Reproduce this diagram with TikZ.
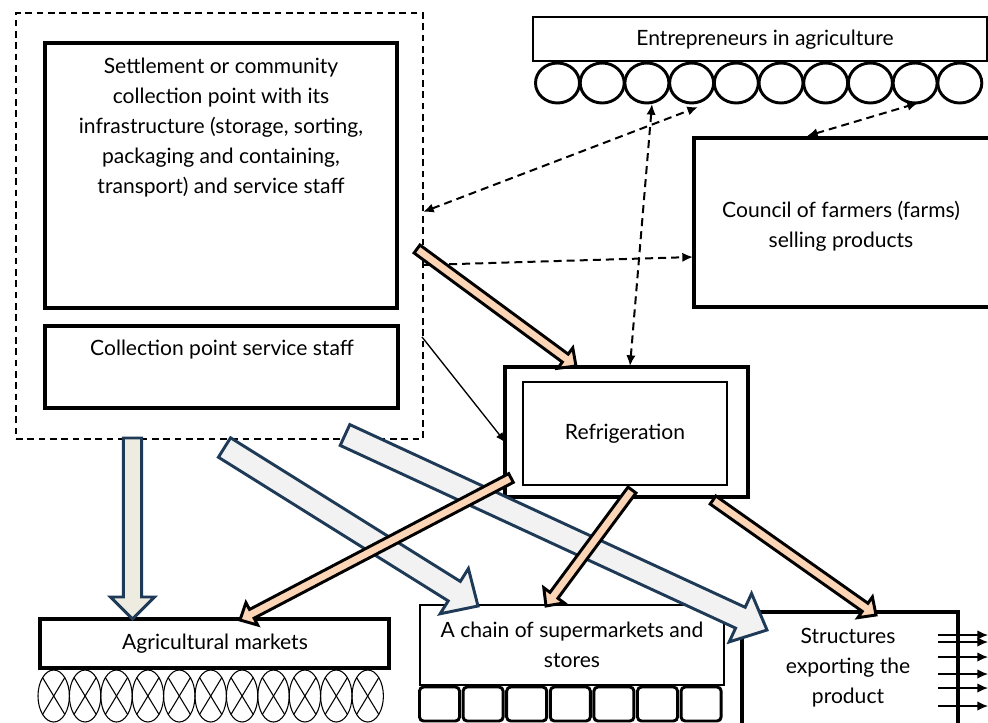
\documentclass[tikz,border=0pt]{standalone}
\usepackage{fontspec}
\setmainfont{Lato}
\usetikzlibrary{calc,arrows.meta}
\definecolor{peach}{HTML}{FBD5B5}
\definecolor{navy}{HTML}{1F3A56}
\definecolor{lgray}{HTML}{F2F2F2}
\definecolor{beige}{HTML}{EEECE1}
\tikzset{
  box/.style={draw, line width=2.6pt, inner sep=0pt, outer sep=0pt, anchor=north west},
  thinbox/.style={draw, line width=1.4pt, inner sep=0pt, outer sep=0pt, anchor=north west},
  txt/.style={align=center, inner sep=0pt, font=\fontsize{15.8}{22.5}\selectfont},
  dsh/.style={dash pattern=on 6pt off 3.8pt, line width=1.5pt},
  dtip/.style={-{Latex[length=8pt,width=7pt]}},
  dtips/.style={{Latex[length=8pt,width=7pt]}-{Latex[length=8pt,width=7pt]}},
  orangearrow/.style={fill=peach, draw=black, line width=2.2pt, line join=miter},
  bluearrow/.style={fill=lgray, draw=navy, line width=2.2pt, line join=miter},
  beigearrow/.style={fill=beige, draw=navy, line width=2.2pt, line join=miter},
}
% box node from pixel corners
\newcommand\boxnode[6]{\node[#1, minimum width={(#4-#2)*0.75pt}, minimum height={(#5-#3)*0.75pt}] (#6) at (#2,#3) {};}
% block arrow: style, start, end, half shaft, half head, head length
\newcommand\blockarrow[6]{%
  \coordinate (baS) at (#2); \coordinate (baE) at (#3);
  \coordinate (baH) at ($(baE)!#6!(baS)$);
  \draw[#1] ($(baS)!#4!90:(baE)$) -- ($(baH)!#4!-90:(baS)$) -- ($(baH)!#5!-90:(baS)$) -- (baE)
    -- ($(baH)!#5!90:(baS)$) -- ($(baH)!#4!90:(baS)$) -- ($(baS)!#4!-90:(baE)$) -- cycle;}
\begin{document}
\begin{tikzpicture}[x=0.75pt,y=-0.75pt]
\useasboundingbox (0,0) rectangle (988,722);
\clip (0,0) rectangle (988,722);

% ---- boxes ----
\node[draw, dash pattern=on 5pt off 3.5pt, line width=1.2pt, inner sep=0pt, outer sep=0pt, anchor=north west, minimum width={407*0.75pt}, minimum height={426*0.75pt}] (group) at (16,13) {};
\boxnode{box}{45}{43}{397}{308}{settle}
\node[txt] (settletxt) at (221,128) {Settlement or community\\collection point with its\\infrastructure (storage, sorting,\\packaging and containing,\\transport) and service staff};
\boxnode{box}{45}{326}{398}{408}{staff}
\node[txt] (stafftxt) at (222,350) {Collection point service staff};

\boxnode{thinbox}{533}{17}{987}{61}{entre}
\node[txt] at (765,40) {Entrepreneurs in agriculture};
\foreach \i in {0,...,9}{
  \draw[line width=2.2pt] ({557.5+44.7*\i},83) ellipse [x radius=22*0.75pt, y radius=20*0.75pt];
}

\boxnode{box}{694}{138}{990}{307}{council}
\node[txt] at (841,226) {Council of farmers (farms)\\selling products};

\boxnode{box}{505}{367}{748}{497}{refout}
\boxnode{thinbox}{523}{382}{727}{485}{refin}
\node[txt] at (625,434) {Refrigeration};

\boxnode{box}{40}{619}{389}{668}{agri}
\node[txt] at (215,644) {Agricultural markets};
\foreach \i in {0,...,10}{
  \pgfmathsetmacro\cx{53.7+31.4*\i}
  \draw[line width=0.8pt] (\cx,696) ellipse [x radius=15.7*0.75pt, y radius=26*0.75pt];
  \draw[line width=0.8pt] ({\cx-11.1},{696-18.4}) -- ({\cx+11.1},{696+18.4});
  \draw[line width=0.8pt] ({\cx+11.1},{696-18.4}) -- ({\cx-11.1},{696+18.4});
}

\boxnode{thinbox}{420}{605}{724}{685}{super}
\node[txt] at (572,644.5) {A chain of supermarkets and\\stores};
\foreach \i in {0,...,6}{
  \draw[line width=2.2pt, rounded corners=3pt] ({419.5+43.6*\i},687) rectangle ({459.5+43.6*\i},721);
}

\boxnode{box}{742}{612}{958}{735}{struct}
\node[txt] at (848,668) {Structures\\exporting the\\product};
\foreach \y [count=\k] in {635,642,657,674,688,706}{
  \coordinate (ea\k) at (938,\y);
  \coordinate (eb\k) at (988,\y);
  \draw[line width=1pt, -{Latex[length=8pt,width=7pt]}] (ea\k) -- (eb\k);
}

% ---- dashed connectors ----
\coordinate (cA) at (423,212);
\coordinate (cB) at (698,107);
\draw[dsh, dtips] (cA) -- (cB);
\coordinate (cC) at (630,366);
\coordinate (cD) at (652,104);
\draw[dsh, dtips] (cC) -- (cD);
\coordinate (cE) at (423,265);
\coordinate (cF) at (693,257);
\draw[dsh, dtip] (cE) -- (cF);
\coordinate (cG) at (807,136);
\coordinate (cH) at (918,103);
\draw[dsh, dtips] (cG) -- (cH);

% thin solid arrow
\coordinate (tA) at (422,337);
\coordinate (tB) at (506,443);
\draw[line width=1pt, -{Latex[length=8pt,width=6pt]}] (tA) -- (tB);

% ---- block arrows (light) ----
\blockarrow{beigearrow}{132.5,438}{132.5,619}{6.8pt}{16.5pt}{16.5pt}
\blockarrow{bluearrow}{224.5,447.5}{478,606}{8.6pt}{20pt}{21pt}
\blockarrow{bluearrow}{345,435}{767,630}{8.6pt}{20pt}{22pt}

% ---- orange arrows ----
\blockarrow{orangearrow}{417,249}{576,366}{3.7pt}{9.5pt}{10pt}
\blockarrow{orangearrow}{511,478}{240,620}{3.7pt}{9.5pt}{10pt}
\blockarrow{orangearrow}{632,490}{546,606}{3.7pt}{9.5pt}{10pt}
\blockarrow{orangearrow}{713,500}{876,615}{3.7pt}{9.5pt}{10pt}
\end{tikzpicture}
\end{document}
